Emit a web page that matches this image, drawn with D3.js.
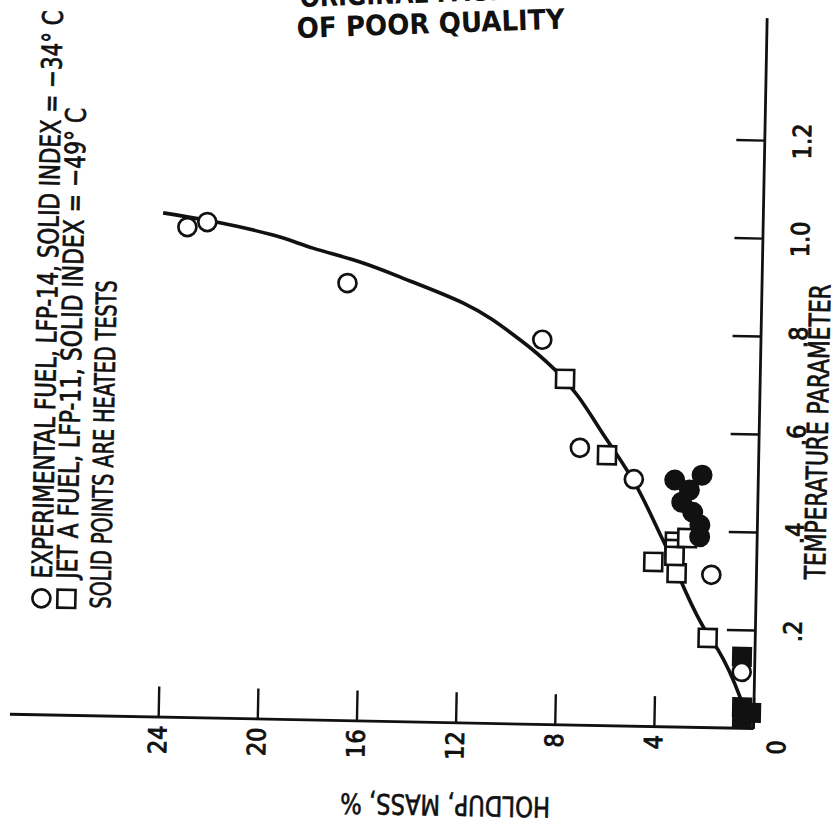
<!DOCTYPE html>
<html>
<head>
<meta charset="utf-8">
<script src="https://cdn.jsdelivr.net/npm/d3@7"></script>
<style>
  body { margin: 0; background: #fff; }
  svg { display: block; }
  text { font-family: "Liberation Sans Narrow", "DejaVu Sans Condensed", "Liberation Sans", sans-serif; fill: #111; }
</style>
</head>
<body>
<svg width="836" height="829"></svg>
<script>
// experimental fuel, LFP-14 (open circles)
const expTemp = [1.002, 1.013, 0.894, 0.786, 0.567, 0.505, 0.313, 0.116];
const expHoldup = [23.2, 22.4, 16.7, 8.8, 7.2, 5.0, 1.8, 0.5];

// jet A fuel, LFP-11 (open squares)
const jetTemp = [0.707, 0.553, 0.337, 0.315, 0.379, 0.364, 0.350, 0.387, 0.184];
const jetHoldup = [7.85, 6.1, 4.15, 3.2, 3.3, 3.3, 3.3, 2.8, 1.9];

// heated tests (solid points)
const heatedExpTemp = [0.516, 0.505, 0.485, 0.46, 0.44, 0.414, 0.39];
const heatedExpHoldup = [2.25, 3.35, 2.75, 3.05, 2.6, 2.3, 2.3];
const heatedJetTemp = [0.147, 0.044, 0.022, 0.033];
const heatedJetHoldup = [0.5, 0.46, 0.45, 0.09];

// faired curve
const curveTemp = [0.035, 0.065, 0.16, 0.194, 0.382, 0.503, 0.584, 0.725, 0.785, 0.858, 0.903, 0.9375, 0.964, 0.989, 1.012, 1.030];
const curveHoldup = [0.33, 0.55, 1.47, 1.93, 3.78, 5.03, 6.11, 8.26, 9.70, 12.03, 14.30, 16.21, 18.12, 19.74, 21.89, 24.19];

const tempTicks = [0.2, 0.4, 0.6, 0.8, 1.0, 1.2];
const tempTickLabels = [".2", ".4", ".6", ".8", "1.0", "1.2"];
const holdupTicks = [0, 4, 8, 12, 16, 20, 24];
const holdupTickLabels = ["0", "4", "8", "12", "16", "20", "24"];

const legendLabels = [
  "EXPERIMENTAL FUEL,  LFP-14,  SOLID INDEX = \u221234\u00b0 C",
  "JET A FUEL,  LFP-11,  SOLID INDEX = \u221249\u00b0 C",
  "SOLID POINTS ARE HEATED TESTS"
];

const ink = "#111";
const svg = d3.select("svg");

// the scanned page is turned on its side
const g = svg.append("g").attr("transform", "translate(753,729) rotate(-88.9)");

const x = d3.scaleLinear().domain([0, 1.45]).range([0, 710.5]);
const y = d3.scaleLinear().domain([0, 30]).range([0, -743.7]);

// temperature axis
const xAxis = g.append("g")
  .call(d3.axisBottom(x).tickValues(tempTicks)
    .tickFormat((d, i) => tempTickLabels[i])
    .tickSizeInner(-28).tickSizeOuter(0).tickPadding(29));

// holdup axis
const yAxis = g.append("g")
  .call(d3.axisLeft(y).tickValues(holdupTicks)
    .tickFormat((d, i) => holdupTickLabels[i])
    .tickSizeInner(-31).tickSizeOuter(0).tickPadding(8));

[xAxis, yAxis].forEach(ax => {
  ax.attr("font-family", null).attr("font-size", 25);
  ax.select(".domain").attr("stroke", ink).attr("stroke-width", 2.8);
  ax.selectAll(".tick line").attr("stroke", ink).attr("stroke-width", 2.4);
  ax.selectAll(".tick text").attr("fill", ink)
    .attr("stroke", ink).attr("stroke-width", 0.9);
});

yAxis.selectAll(".tick").filter(d => d === 0).select("text")
  .attr("x", -18).attr("y", 24).attr("text-anchor", "middle");

g.append("text")
  .attr("x", x(0.609)).attr("y", 69)
  .attr("text-anchor", "middle")
  .attr("font-size", 29)
  .attr("stroke", ink).attr("stroke-width", 0.7)
  .attr("textLength", 295).attr("lengthAdjust", "spacingAndGlyphs")
  .text("TEMPERATURE PARAMETER");

g.append("text")
  .attr("transform", `translate(-82,${y(12.36)}) rotate(-90)`)
  .attr("text-anchor", "middle").attr("dy", "0.35em")
  .attr("font-size", 28)
  .attr("stroke", ink).attr("stroke-width", 0.6)
  .attr("textLength", 210).attr("lengthAdjust", "spacingAndGlyphs")
  .text("HOLDUP, MASS, %");

// faired curve
const line = d3.line()
  .x(d => x(d[0])).y(d => y(d[1]))
  .curve(d3.curveMonotoneX);

g.append("path")
  .datum(curveTemp.map((t, i) => [t, curveHoldup[i]]))
  .attr("d", line)
  .attr("fill", "none").attr("stroke", ink).attr("stroke-width", 3.6);

// open squares
g.selectAll("rect.jet")
  .data(jetTemp.map((t, i) => [t, jetHoldup[i]]))
  .join("rect").attr("class", "jet")
  .attr("x", d => x(d[0]) - 9).attr("y", d => y(d[1]) - 9)
  .attr("width", 18).attr("height", 18)
  .attr("fill", "#fff").attr("stroke", ink).attr("stroke-width", 2.6);

// solid circles
g.selectAll("circle.hexp")
  .data(heatedExpTemp.map((t, i) => [t, heatedExpHoldup[i]]))
  .join("circle").attr("class", "hexp")
  .attr("cx", d => x(d[0])).attr("cy", d => y(d[1]))
  .attr("r", 10.5).attr("fill", ink);

// solid squares
g.selectAll("rect.hjet")
  .data(heatedJetTemp.map((t, i) => [t, heatedJetHoldup[i]]))
  .join("rect").attr("class", "hjet")
  .attr("x", d => x(d[0]) - 10).attr("y", d => y(d[1]) - 10)
  .attr("width", 20).attr("height", 20).attr("fill", ink);

// open circles
g.selectAll("circle.exp")
  .data(expTemp.map((t, i) => [t, expHoldup[i]]))
  .join("circle").attr("class", "exp")
  .attr("cx", d => x(d[0])).attr("cy", d => y(d[1]))
  .attr("r", 9)
  .attr("fill", "#fff").attr("stroke", ink).attr("stroke-width", 2.7);

// legend
const legendRows = [-714, -689, -655];
const legendStart = [137, 137, 108];
const legendLen = [568, 471, 328];

g.append("circle").attr("cx", 117).attr("cy", legendRows[0]).attr("r", 9)
  .attr("fill", "#fff").attr("stroke", ink).attr("stroke-width", 2.7);
g.append("rect").attr("x", 108).attr("y", legendRows[1] - 9).attr("width", 18).attr("height", 18)
  .attr("fill", "#fff").attr("stroke", ink).attr("stroke-width", 2.6);

g.selectAll("text.legend")
  .data(legendLabels)
  .join("text").attr("class", "legend")
  .attr("x", (d, i) => legendStart[i]).attr("y", (d, i) => legendRows[i])
  .attr("dy", "0.36em")
  .attr("font-size", 28)
  .attr("stroke", ink).attr("stroke-width", 0.7)
  .attr("textLength", (d, i) => legendLen[i]).attr("lengthAdjust", "spacingAndGlyphs")
  .text(d => d);

// archive stamp
const stamp = svg.append("g").attr("transform", "translate(297,38) rotate(-2)")
  .style("font-family", "'DejaVu Sans', sans-serif").style("font-weight", "bold");
stamp.append("text").attr("x", 4).attr("y", -31).attr("font-size", 28)
  .attr("textLength", 240).attr("lengthAdjust", "spacingAndGlyphs")
  .text("ORIGINAL PAGE IS");
stamp.append("text").attr("x", 0).attr("y", 0).attr("font-size", 28)
  .attr("textLength", 268).attr("lengthAdjust", "spacingAndGlyphs")
  .text("OF POOR QUALITY");
</script>
</body>
</html>
